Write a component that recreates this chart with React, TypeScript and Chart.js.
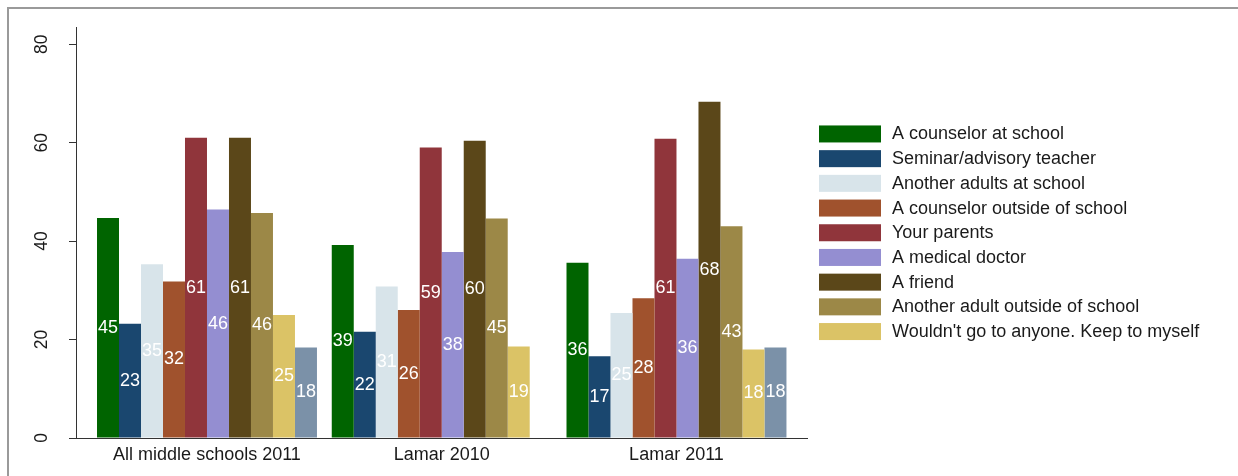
import { useEffect, useRef } from 'react';
import { Chart, registerables } from 'chart.js';

Chart.register(...registerables);

const groups = ['All middle schools 2011', 'Lamar 2010', 'Lamar 2011'];
const seriesNames = [
  'A counselor at school',
  'Seminar/advisory teacher',
  'Another adults at school',
  'A counselor outside of school',
  'Your parents',
  'A medical doctor',
  'A friend',
  'Another adult outside of school',
  "Wouldn't go to anyone. Keep to myself",
  '',
];
const counselorSchool = [44.7, 39.2, 35.6];
const seminarTeacher = [23.2, 21.6, 16.6];
const otherAdultSchool = [35.3, 30.8, 25.4];
const counselorOutside = [31.8, 26.0, 28.4];
const parents = [61.0, 59.0, 60.8];
const medicalDoctor = [46.4, 37.8, 36.4];
const friend = [61.0, 60.4, 68.3];
const otherAdultOutside = [45.7, 44.6, 43.0];
const noOne = [25.0, 18.6, 18.0];
const unlabeledSeries = [18.4, null, 18.4];
const yTicks = [0, 20, 40, 60, 80];

const seriesValues = [
  counselorSchool,
  seminarTeacher,
  otherAdultSchool,
  counselorOutside,
  parents,
  medicalDoctor,
  friend,
  otherAdultOutside,
  noOne,
  unlabeledSeries,
];
const colors = [
  '#006400',
  '#1a476f',
  '#d8e4ea',
  '#a0522d',
  '#90353b',
  '#948ed1',
  '#5b4719',
  '#9c8847',
  '#dbc366',
  '#7b91a8',
];

const FONT = '"Liberation Sans", Arial, Helvetica, sans-serif';

const barLabels = {
  id: 'barLabels',
  afterDatasetsDraw(chart: any) {
    const ctx = chart.ctx;
    ctx.save();
    ctx.font = `18px ${FONT}`;
    ctx.fillStyle = '#ffffff';
    ctx.textAlign = 'center';
    ctx.textBaseline = 'middle';
    chart.data.datasets.forEach((ds: any, di: number) => {
      const meta = chart.getDatasetMeta(di);
      meta.data.forEach((el: any, i: number) => {
        const v = ds.data[i].y;
        if (v == null) return;
        const { x, y, base } = el.getProps(['x', 'y', 'base'], true);
        ctx.fillText(String(Math.round(v)), x, (y + base) / 2);
      });
    });
    ctx.restore();
  },
};

const sideLegend = {
  id: 'sideLegend',
  afterDraw(chart: any) {
    const ctx = chart.ctx;
    const area = chart.chartArea;
    const items = chart.data.datasets.filter((d: any) => d.label);
    const rowH = 24.7;
    const boxW = 62;
    const boxH = 17;
    const total = (items.length - 1) * rowH + boxH;
    const top0 = (area.top + area.bottom) / 2 - total / 2;
    const x0 = area.right + 12;
    ctx.save();
    ctx.font = `18px ${FONT}`;
    ctx.textAlign = 'left';
    ctx.textBaseline = 'middle';
    items.forEach((d: any, i: number) => {
      const y = top0 + i * rowH;
      ctx.fillStyle = d.backgroundColor;
      ctx.fillRect(x0, y, boxW, boxH);
      ctx.fillStyle = '#1a1a1a';
      ctx.fillText(d.label, x0 + boxW + 11, y + boxH / 2 + 0.5);
    });
    ctx.restore();
  },
};

export default function App() {
  const ref = useRef<HTMLCanvasElement>(null);

  useEffect(() => {
    if (!ref.current) return;
    const datasets = seriesValues.map((vals, si) => ({
      label: seriesNames[si],
      data: vals.map((v, gi) => ({ x: gi, y: v })),
      backgroundColor: colors[si],
      borderWidth: 0,
    }));
    const chart = new Chart(ref.current, {
      type: 'bar',
      data: { datasets } as any,
      plugins: [barLabels, sideLegend],
      options: {
        responsive: false,
        animation: false,
        events: [],
        layout: { padding: { left: 0, right: 431, top: 25, bottom: 0 } },
        datasets: { bar: { categoryPercentage: 0.937, barPercentage: 1 } },
        plugins: {
          legend: { display: false },
          tooltip: { enabled: false },
          title: { display: false },
        },
        scales: {
          x: {
            type: 'linear',
            offset: false,
            min: -0.558,
            max: 2.556,
            afterBuildTicks: (s: any) => {
              s.ticks = groups.map((_, i) => ({ value: i }));
            },
            afterFit: (s: any) => {
              s.height = 38;
            },
            grid: { display: true, offset: false, drawOnChartArea: false, drawTicks: false },
            border: { color: '#333333', width: 1 },
            ticks: {
              callback: (v: any) => groups[v] ?? '',
              autoSkip: false,
              maxRotation: 0,
              minRotation: 0,
              padding: 6,
              color: '#1a1a1a',
              font: { family: FONT, size: 18 },
            },
          },
          y: {
            type: 'linear',
            min: 0,
            max: 83.4,
            afterBuildTicks: (s: any) => {
              s.ticks = yTicks.map((v) => ({ value: v }));
            },
            afterFit: (s: any) => {
              s.width = 76;
            },
            grid: {
              drawOnChartArea: false,
              drawTicks: true,
              tickLength: 7,
              color: '#333333',
              lineWidth: 1,
            },
            border: { color: '#333333', width: 1 },
            ticks: {
              minRotation: 90,
              maxRotation: 90,
              crossAlign: 'center',
              padding: 17,
              color: '#1a1a1a',
              font: { family: FONT, size: 17.5 },
            },
          },
        },
      } as any,
    });
    return () => chart.destroy();
  }, []);

  return (
    <div
      style={{
        position: 'absolute',
        left: 0,
        top: 0,
        width: 1238,
        height: 476,
        overflow: 'hidden',
        background: '#ffffff',
      }}
    >
      <div
        style={{
          position: 'absolute',
          left: 7,
          top: 7,
          width: 1400,
          height: 700,
          borderTop: '2px solid #9a9a9a',
          borderLeft: '2px solid #9a9a9a',
        }}
      />
      <canvas
        ref={ref}
        width={1238}
        height={476}
        style={{ position: 'absolute', left: 0, top: 0, width: 1238, height: 476 }}
      />
    </div>
  );
}
